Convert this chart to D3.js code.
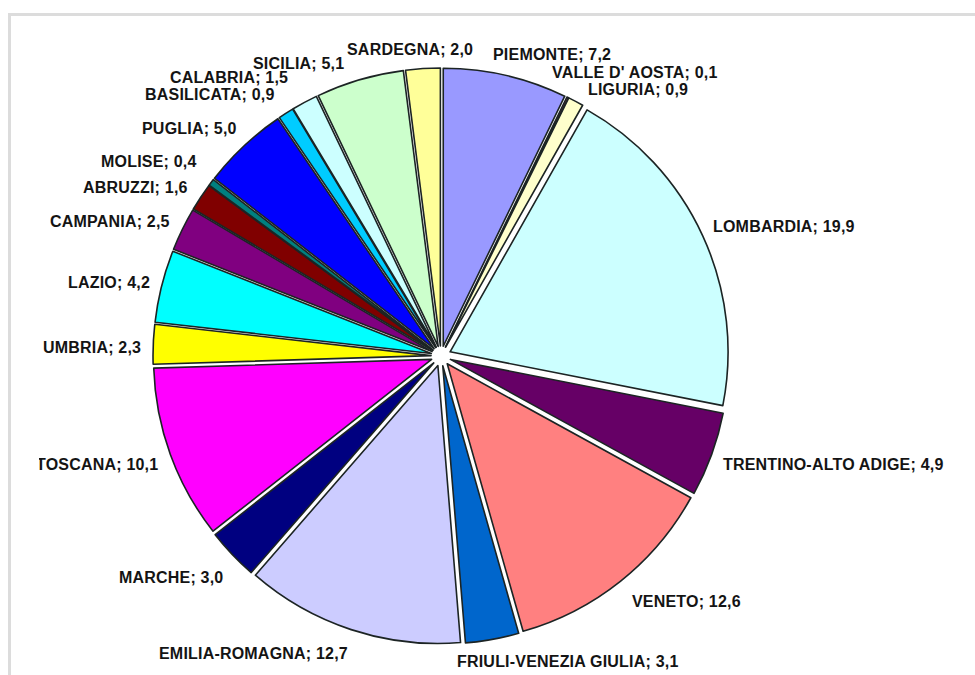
<!DOCTYPE html>
<html>
<head>
<meta charset="utf-8">
<script src="https://cdn.jsdelivr.net/npm/d3@7"></script>
<style>
  html, body { margin: 0; padding: 0; background: #fff; }
  svg { display: block; }
  .lbl { font-family: "Liberation Sans", Arial, sans-serif; font-weight: bold; font-size: 16px; letter-spacing: 0.2px; fill: #141414; }
</style>
</head>
<body>
<svg id="chart" width="975" height="675"></svg>
<script>
// Regions, in clockwise order starting from twelve o'clock
const regions = [
  "PIEMONTE", "VALLE D' AOSTA", "LIGURIA", "LOMBARDIA", "TRENTINO-ALTO ADIGE",
  "VENETO", "FRIULI-VENEZIA GIULIA", "EMILIA-ROMAGNA", "MARCHE", "TOSCANA",
  "UMBRIA", "LAZIO", "CAMPANIA", "ABRUZZI", "MOLISE",
  "PUGLIA", "BASILICATA", "CALABRIA", "SICILIA", "SARDEGNA"
];
// Share of the total (%)
const shares = [
  7.2, 0.1, 0.9, 19.9, 4.9,
  12.6, 3.1, 12.7, 3.0, 10.1,
  2.3, 4.2, 2.5, 1.6, 0.4,
  5.0, 0.9, 1.5, 5.1, 2.0
];
// Slice fills
const fills = [
  "#9999FF", "#993366", "#FFFFCC", "#CCFFFF", "#660066",
  "#FF8080", "#0066CC", "#CCCCFF", "#000080", "#FF00FF",
  "#FFFF00", "#00FFFF", "#800080", "#800000", "#008080",
  "#0000FF", "#00CCFF", "#CCFFFF", "#CCFFCC", "#FFFF99"
];
// Hand-placed label positions: left edge x, vertical centre y
const labelX = [493, 552, 588, 713, 723, 632, 457, 159, 119, 36, 43, 68, 50, 83, 101, 142, 145, 170, 253, 347];
const labelY = [54, 72.5, 89, 226, 464, 601, 661, 653, 577, 464.5, 347, 282.5, 221, 187.5, 161.5, 128, 94.5, 77.5, 63.5, 49.5];

const svg = d3.select("#chart");
const cx = 441, cy = 356, radius = 278, explode = 10;

// Light frame around the chart area
svg.append("line").attr("x1", 8).attr("x2", 975).attr("y1", 14.5).attr("y2", 14.5)
  .attr("stroke", "#dcdcdc").attr("stroke-width", 3);
svg.append("line").attr("x1", 9.5).attr("x2", 9.5).attr("y1", 13).attr("y2", 675)
  .attr("stroke", "#dcdcdc").attr("stroke-width", 3);

const data = regions.map((name, i) => ({ name, value: shares[i], fill: fills[i], i }));

const pie = d3.pie().sort(null).value(d => d.value).startAngle(0).endAngle(2 * Math.PI);
const arc = d3.arc().innerRadius(0).outerRadius(radius);

const g = svg.append("g").attr("transform", `translate(${cx},${cy})`);

// Every slice is pulled out from the centre along its bisector
g.selectAll("path.slice")
  .data(pie(data))
  .join("path")
  .attr("class", "slice")
  .attr("transform", d => {
    const mid = (d.startAngle + d.endAngle) / 2;
    return `translate(${explode * Math.sin(mid)},${-explode * Math.cos(mid)})`;
  })
  .attr("d", arc)
  .attr("fill", d => d.data.fill)
  .attr("stroke", "#1c2424")
  .attr("stroke-width", 1.6)
  .attr("stroke-linejoin", "round");

// Labels are clipped at the left margin of the plot area
svg.append("clipPath").attr("id", "plotClip")
  .append("rect").attr("x", 39).attr("y", 16).attr("width", 936).attr("height", 659);

const fmt = v => v.toFixed(1).replace(".", ",");

svg.append("g").attr("clip-path", "url(#plotClip)")
  .selectAll("text")
  .data(data)
  .join("text")
  .attr("class", "lbl")
  .attr("x", d => labelX[d.i])
  .attr("y", d => labelY[d.i])
  .attr("dominant-baseline", "central")
  .text(d => `${d.name}; ${fmt(d.value)}`);
</script>
</body>
</html>
